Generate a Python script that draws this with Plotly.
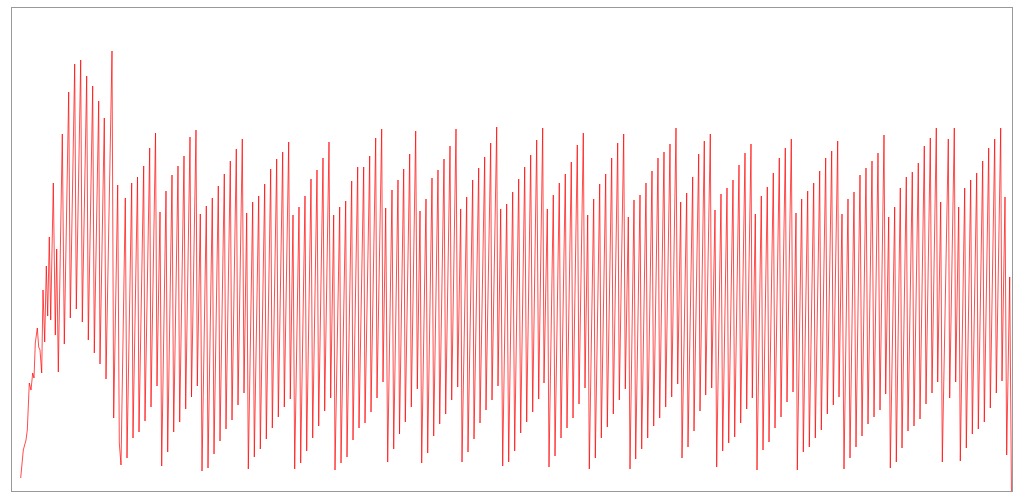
import plotly.graph_objects as go

# Time (arbitrary units) and signal amplitude
t_startup = [8.7, 11.3, 14, 15.3, 17.3, 19, 20.7, 22, 23.3, 25.3, 26.7, 28, 29.7, 31, 32.7,
             34.3, 35.7, 37.3, 38.7, 41.3, 43.3, 44.7, 46.3, 50.3, 52.3, 56.7, 58.3, 62.7,
             64.3, 68.7, 70.3, 74.7, 76.3, 80.7, 82.3, 86.7, 88, 92.3, 94, 100, 101.7]
v_startup = [13, 41, 51, 61, 108, 101, 118, 113, 148, 163, 144, 141, 118, 201, 149,
             225, 175, 254, 171, 308, 156, 242, 119, 357, 147, 399, 173, 427,
             182, 431, 169, 415, 151, 405, 138, 390, 127, 373, 112, 440, 73]

t_seg1 = [105.7, 107.3, 109, 113.3, 115, 119.7, 121, 125.5, 127, 131.7, 133, 137.7, 139,
          143.5, 145, 148, 149.7, 154, 155.7, 160, 161.7, 166, 167.7, 172, 173.7, 178, 179.5,
          184, 185.3, 188.3, 190, 194.3, 196, 200.3, 202, 206.3, 208, 212.3, 214, 218.3, 220,
          224.3, 226, 230.3, 232, 234.7, 236.3, 240.7, 242.3, 246.7, 248.3, 252.7, 254.3,
          258.7, 260.3, 264.7, 266.3, 270.7, 272.3, 276.7, 278.3]
v_seg1 = [306, 48, 26, 293, 33, 308, 53, 314, 59, 325, 70, 343, 84,
          358, 105, 279, 25, 300, 39, 316, 59, 325, 69, 335, 82, 354, 94,
          361, 105, 277, 20, 285, 23, 293, 37, 305, 50, 317, 62, 330, 71,
          342, 86, 352, 98, 278, 22, 289, 34, 295, 42, 307, 52,
          322, 63, 332, 74, 339, 84, 349, 92]

t_seg2 = [281, 282.7, 287, 288.7, 293, 294.7, 299, 300.7, 305, 306.7, 311, 312.7, 317, 318.7,
          321.7, 323, 327.7, 329, 333.7, 335, 339.7, 341, 345.7, 347, 351.7, 353, 357.7, 359,
          363.7, 365, 369.7, 371, 373.7, 375.7, 380, 381.7, 386, 387.5, 391.7, 393.3, 397.7,
          399.3, 403.7, 405.3, 408, 409.7, 414, 415.7, 420, 421.7, 426, 427.7, 432, 433.7,
          438, 439.7, 444, 445.7, 448.7, 450, 454.7, 456, 460.7, 462, 466.7, 468, 472.7, 474,
          478.7, 480, 484.7, 486]
v_seg2 = [276, 22, 284, 28, 295, 40, 312, 53, 321, 65, 333, 80, 349, 93,
          276, 21, 284, 28, 290, 34, 310, 51, 324, 63, 324, 68, 335, 79,
          353, 93, 362, 109, 283, 29, 301, 42, 311, 57, 322, 69, 337,
          84, 360, 102, 280, 28, 292, 38, 313, 55, 321, 67, 332, 77,
          345, 91, 362, 104, 282, 29, 294, 39, 311, 52, 323, 68, 334, 81,
          348, 91, 364, 105]

t_seg3 = [488.7, 490.7, 494.7, 496.7, 500.7, 502.7, 506.7, 508.7, 512.7, 514.7, 518.7, 520.7,
          524.7, 526.7, 530.7, 532, 535.3, 537, 541.3, 543, 547.3, 549, 553.3, 555, 559.3, 561,
          565.3, 567, 571.3, 573, 575.7, 577.3, 581.7, 583.3, 587.7, 589.3, 593.7, 595.3,
          599.7, 601.3, 605.7, 607.3, 611.7, 613.3, 616.3, 618, 622, 623.7, 628, 629.7, 634,
          635.7, 640, 641.7, 646, 647.7, 652, 653.7, 658, 659.7, 664, 665.7, 668.7, 670,
          674.7, 676, 680.7, 682, 686.7, 688, 692.3, 693.7, 698.3, 699.7]
v_seg3 = [282, 25, 287, 29, 299, 40, 312, 58, 324, 69, 336, 79,
          351, 92, 363, 108, 282, 24, 296, 35, 308, 53, 317, 63, 329, 73,
          346, 87, 358, 103, 276, 22, 292, 33, 307, 53, 317, 64,
          333, 77, 348, 91, 357, 102, 274, 22, 291, 32, 296, 42, 308,
          53, 320, 65, 333, 73, 339, 84, 347, 94, 363, 107, 289, 33,
          298, 44, 314, 60, 337, 80, 350, 96, 357, 103]

t_seg4 = [703, 704.7, 709, 710.7, 715, 716.7, 721, 722.7, 727, 728.7, 733, 734.7, 739, 740.3,
          743.3, 745, 749.3, 751, 755.3, 757, 761.3, 763, 767.3, 769, 773.3, 775, 779.3, 781,
          784, 785.3, 789.7, 791.3, 795.7, 797.3, 801.7, 803.3, 807.7, 809.3, 813.7, 815.3,
          819.7, 821.3, 825.7, 827, 830, 832, 836, 838, 842, 844, 848, 850, 854, 856, 860, 862,
          866, 868, 872, 873.7]
v_seg4 = [281, 24, 297, 40, 303, 48, 311, 54, 326, 68, 338, 82, 347, 93,
          277, 21, 295, 41, 304, 49, 318, 63, 333, 74, 343, 89, 352, 99,
          278, 21, 292, 39, 300, 44, 308, 53, 320, 61, 333, 77,
          340, 86, 350, 94, 277, 22, 292, 33, 299, 44, 316, 55,
          323, 67, 330, 74, 338, 81, 356, 97]

t_seg5 = [876.7, 878.3, 882.7, 884.3, 888.3, 890, 894.3, 896, 900.3, 902, 906.3, 908, 912.3,
          914, 918.3, 920, 924.3, 925.7, 928.7, 930.3, 936.3, 937.7, 942.3, 943.7, 946.7, 948.3,
          952.7, 954.3, 958.7, 960.3, 964.7, 966.3, 970.7, 972.3, 976.7, 978.3, 982.7, 984.3,
          988.7, 990, 993, 994.7, 997.7, 999.5]
v_seg5 = [274, 23, 284, 29, 303, 43, 314, 60, 319, 65, 328, 72, 345,
          87, 353, 98, 363, 109, 289, 29, 352, 93, 363, 109, 284, 30,
          303, 43, 311, 57, 318, 62, 330, 69, 343, 83, 352, 98,
          363, 110, 294, 36, 214, -6]

time = t_startup + t_seg1 + t_seg2 + t_seg3 + t_seg4 + t_seg5
signal = v_startup + v_seg1 + v_seg2 + v_seg3 + v_seg4 + v_seg5
assert len(time) == len(signal)

fig = go.Figure(
    go.Scatter(
        x=time,
        y=signal,
        mode="lines",
        line=dict(color="rgba(255,0,0,0.7)", width=1),
        hoverinfo="skip",
    )
)

axis_style = dict(
    showgrid=False,
    zeroline=False,
    showticklabels=False,
    ticks="",
    showline=True,
    mirror=True,
    linecolor="#999999",
    linewidth=1,
)

fig.update_layout(
    width=1024,
    height=500,
    margin=dict(l=12, r=12, t=8, b=9),
    paper_bgcolor="white",
    plot_bgcolor="white",
    showlegend=False,
    xaxis=dict(range=[0, 1000], **axis_style),
    yaxis=dict(range=[0, 483], **axis_style),
)

fig.write_html("out.html")
